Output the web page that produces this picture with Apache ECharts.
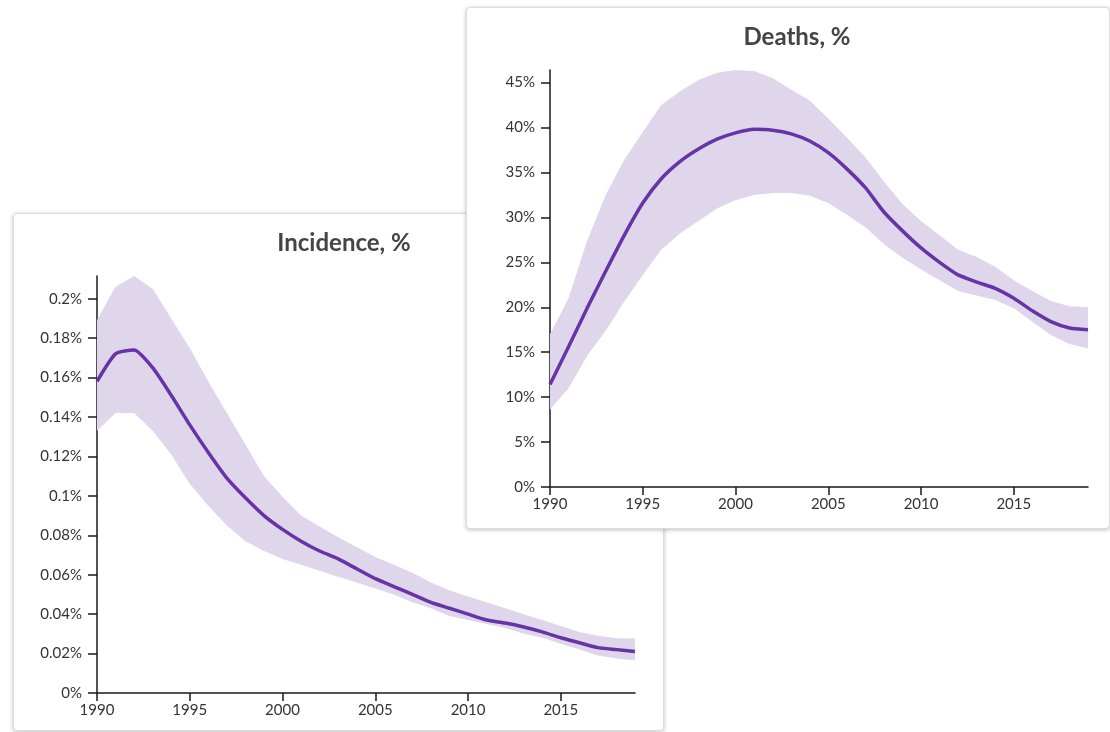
<!DOCTYPE html>
<html>
<head>
<meta charset="utf-8">
<script src="https://cdn.jsdelivr.net/npm/echarts@6/dist/echarts.min.js"></script>
<style>
  html, body { margin: 0; padding: 0; background: #fff; width: 1110px; height: 732px; overflow: hidden; }
  .card { position: absolute; background: #fff; border: 1px solid #dcdcdc; border-radius: 4px;
          box-shadow: 0 1px 4px rgba(0,0,0,0.25); }
  #inc { left: 13px; top: 213px; width: 649px; height: 516px; }
  #dea { left: 466px; top: 7px; width: 642px; height: 520px; }
</style>
</head>
<body>
<div id="inc" class="card"></div>
<div id="dea" class="card"></div>
<script>
const years = [1990,1991,1992,1993,1994,1995,1996,1997,1998,1999,2000,2001,2002,2003,2004,2005,2006,2007,2008,2009,2010,2011,2012,2013,2014,2015,2016,2017,2018,2019];

const incidenceTitle = 'Incidence, %';
const incidenceMean = [0.158,0.172,0.174,0.165,0.151,0.136,0.122,0.109,0.099,0.090,0.083,0.077,0.072,0.068,0.063,0.058,0.054,0.050,0.046,0.043,0.040,0.037,0.0355,0.0335,0.031,0.028,0.0255,0.023,0.022,0.021];
const incidenceUpper = [0.189,0.206,0.2115,0.205,0.190,0.175,0.158,0.142,0.126,0.110,0.0995,0.090,0.0845,0.079,0.074,0.069,0.065,0.061,0.056,0.052,0.049,0.046,0.043,0.040,0.037,0.034,0.031,0.029,0.0278,0.0276];
const incidenceLower = [0.133,0.142,0.142,0.133,0.121,0.106,0.095,0.085,0.077,0.072,0.068,0.065,0.062,0.059,0.056,0.053,0.050,0.046,0.043,0.039,0.037,0.035,0.033,0.030,0.028,0.025,0.022,0.019,0.0175,0.0166];

const deathsTitle = 'Deaths, %';
const deathsMean = [11.4,15.6,19.9,24.0,28.0,31.6,34.3,36.2,37.6,38.7,39.4,39.8,39.7,39.3,38.5,37.2,35.4,33.3,30.6,28.5,26.6,25.0,23.6,22.8,22.1,21.0,19.6,18.4,17.7,17.5];
const deathsUpper = [17.0,21.0,27.4,32.5,36.4,39.5,42.5,44.0,45.3,46.1,46.4,46.3,45.5,44.2,43.0,41.0,38.9,36.7,34.0,31.5,29.6,28.0,26.4,25.6,24.5,23.0,21.8,20.7,20.1,20.0];
const deathsLower = [8.6,11.0,14.6,17.4,20.6,23.6,26.4,28.2,29.6,31.0,31.9,32.5,32.7,32.7,32.4,31.6,30.3,28.9,27.0,25.5,24.2,23.0,21.8,21.3,20.8,19.9,18.4,16.9,15.9,15.4];

const xTickStep = 5;
const incidenceTickStep = 0.02;
const deathsTickStep = 5;

const FONT = 'Lato, "Open Sans", sans-serif';
const LINE = '#6634a6';
const BAND = '#dfd6ec';
const AXIS = '#1a1a1a';

function fmtPct(v) {
  return (+v.toFixed(4)) + '%';
}

function buildOption(title, mean, upper, lower, step) {
  const pair = (arr) => years.map((y, i) => [y, arr[i]]);
  return {
    animation: false,
    title: {
      text: title, left: 325, textAlign: 'center', top: 12,
      textStyle: { fontFamily: FONT, fontSize: 24, fontWeight: 'bold', color: '#444' }
    },
    grid: { left: 83, width: 538, top: 62, height: 417, containLabel: false },
    xAxis: {
      type: 'value', min: years[0], max: years[years.length - 1], interval: xTickStep,
      axisLine: { show: true, lineStyle: { color: AXIS, width: 1.5 } },
      axisTick: { show: true, length: 8, lineStyle: { color: AXIS, width: 1.5 } },
      axisLabel: { showMaxLabel: false, color: '#333', fontFamily: FONT, fontSize: 15, margin: 10, formatter: v => String(v) },
      splitLine: { show: false }
    },
    yAxis: {
      type: 'value', min: 0, max: Math.max(...upper), interval: step,
      axisLine: { show: true, lineStyle: { color: AXIS, width: 1.5 } },
      axisTick: { show: true, length: 9, lineStyle: { color: AXIS, width: 1.5 } },
      axisLabel: { showMaxLabel: false, color: '#333', fontFamily: FONT, fontSize: 15, margin: 15, formatter: fmtPct },
      splitLine: { show: false }
    },
    series: [
      {
        type: 'custom', silent: true, z: 1, clip: false,
        data: [[years[0], lower[0]]],
        renderItem: (params, api) => {
          const pts = [];
          for (let i = 0; i < years.length; i++) pts.push(api.coord([years[i], upper[i]]));
          for (let i = years.length - 1; i >= 0; i--) pts.push(api.coord([years[i], lower[i]]));
          return { type: 'polygon', shape: { points: pts }, style: { fill: BAND } };
        }
      },
      { type: 'line', data: pair(mean), symbol: 'none', smooth: 0.2,
        lineStyle: { color: LINE, width: 3.5 }, z: 5 }
    ]
  };
}

const incChart = echarts.init(document.getElementById('inc'), null, { renderer: 'canvas' });
incChart.setOption(buildOption(incidenceTitle, incidenceMean, incidenceUpper, incidenceLower, incidenceTickStep));

const deaChart = echarts.init(document.getElementById('dea'), null, { renderer: 'canvas' });
deaChart.setOption(buildOption(deathsTitle, deathsMean, deathsUpper, deathsLower, deathsTickStep));
</script>
</body>
</html>
